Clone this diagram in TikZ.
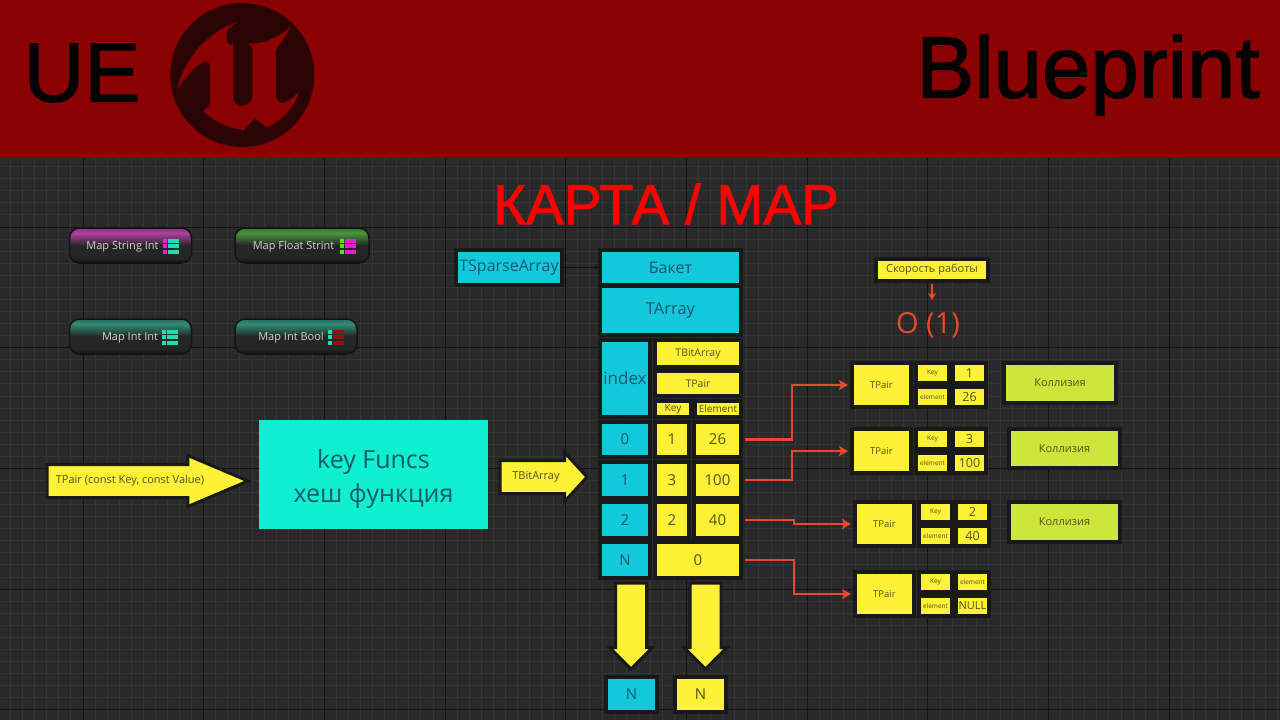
\documentclass[tikz,border=0pt]{standalone}
\usepackage{fontspec}
\setmainfont{Open Sans}
\newfontfamily\arialfont[RawFeature={embolden=1.5}]{Liberation Sans}
\usetikzlibrary{arrows.meta, shapes.arrows, calc}
\definecolor{headred}{HTML}{8B0000}
\definecolor{logodark}{HTML}{2A0303}
\definecolor{boardbg}{HTML}{292929}
\definecolor{gridminor}{HTML}{343434}
\definecolor{gridmajor}{HTML}{141414}
\definecolor{halo}{HTML}{191919}
\definecolor{newcyan}{HTML}{12C8DA}
\definecolor{newmint}{HTML}{0FF0D0}
\definecolor{newyellow}{HTML}{FFF135}
\definecolor{newlime}{HTML}{CDE63C}
\definecolor{linkred}{HTML}{E8492A}
\definecolor{cyantext}{HTML}{125A6C}
\definecolor{yellowtext}{HTML}{55521C}
\definecolor{iconteal}{HTML}{1FDDB0}
\definecolor{iconpink}{HTML}{E81FD0}
\definecolor{icongreen}{HTML}{55E020}
\definecolor{iconred}{HTML}{8E1010}
\definecolor{btnbody}{HTML}{242626}
\definecolor{btnedge}{HTML}{131313}
\definecolor{btnpink}{RGB}{176,64,160}
\definecolor{btngreen}{RGB}{72,150,60}
\definecolor{btnteal}{RGB}{50,140,120}
\pgfdeclareverticalshading{btnshadepink}{100bp}{color(0bp)=(btnedge); color(26bp)=(btnedge); color(32bp)=(btnbody); color(50bp)=(btnbody); color(68bp)=(btnpink); color(75bp)=(btnpink!65!btnbody); color(100bp)=(btnpink!65!btnbody)}
\pgfdeclareverticalshading{btnshadegreen}{100bp}{color(0bp)=(btnedge); color(26bp)=(btnedge); color(32bp)=(btnbody); color(50bp)=(btnbody); color(68bp)=(btngreen); color(75bp)=(btngreen!65!btnbody); color(100bp)=(btngreen!65!btnbody)}
\pgfdeclareverticalshading{btnshadeteal}{100bp}{color(0bp)=(btnedge); color(26bp)=(btnedge); color(32bp)=(btnbody); color(50bp)=(btnbody); color(68bp)=(btnteal); color(75bp)=(btnteal!65!btnbody); color(100bp)=(btnteal!65!btnbody)}
\tikzset{
  pxbox/.style 2 args = {rectangle, draw = halo, line width = 4pt, inner sep = 0pt, outer sep = 0pt, align = center,
    minimum width = #1pt + 4pt, minimum height = #2pt + 4pt},
  cyanbox/.style = {fill = newcyan, text = cyantext},
  yellowbox/.style = {fill = newyellow, text = yellowtext},
  limebox/.style = {fill = newlime, text = yellowtext, font = \fontsize{11}{13}\selectfont},
  bigarrow/.style = {single arrow, fill = newyellow, draw = halo, line width = 3pt, inner sep = 0pt, outer sep = 0pt, anchor = tail},
  redlink/.style = {draw = linkred, line width = 2.4pt, -{Stealth[length = 9pt, width = 10pt, inset = 2pt]}, shorten < = 4pt, shorten > = 4pt},
  mapbutton/.style = {rectangle, rounded corners = 10pt, draw = btnedge, line width = 1.5pt, inner sep = 0pt, shading = #1},
  maptext/.style = {text = white!82!black, font = \fontsize{11}{13}\selectfont},
  iconcell/.style = {rectangle, inner sep = 0pt, outer sep = 0pt}
}
\newcommand{\mapicon}[5]{%
  \foreach \j in {0, 1, 2} {
    \node[iconcell, fill = #4, minimum width = 4pt, minimum height = 4pt] (#1l\j) at (#2+2,#3+\j*5.5) {};
    \node[iconcell, fill = #5, minimum width = 11pt, minimum height = 4pt] (#1r\j) at (#2+10.5,#3+\j*5.5) {};
  }}
\begin{document}
\begin{tikzpicture}[x = 1pt, y = -1pt]
\useasboundingbox (0,0) rectangle (1280,720);
\fill[boardbg] (0,0) rectangle (1280,720);
% grid
\foreach \i in {0,...,106}
	\draw[gridminor, line width = 1pt] ({10.6+\i*12.07},158) -- ({10.6+\i*12.07},720);
\foreach \i in {0,...,47}
	\draw[gridminor, line width = 1pt] (0,{154.6+\i*12.07}) -- (1280,{154.6+\i*12.07});
\foreach \i in {0,...,9}
	\draw[gridmajor, line width = 1pt] ({83+\i*120.7},158) -- ({83+\i*120.7},720);
\foreach \i in {0,...,4}
	\draw[gridmajor, line width = 1pt] (0,{227+\i*120.7}) -- (1280,{227+\i*120.7});
% header
\fill[headred] (0,0) rectangle (1280,158);
\node[font = \arialfont\fontsize{84}{100}\selectfont, text = black] (ue) at (82,73) {UE};
\node[font = \arialfont\fontsize{87}{100}\selectfont, text = black] (blueprint) at (1088,75) {Blueprint};
\fill[logodark] (242.3,75) circle (72);
\begin{scope}[shift = {(165,0)}, x = 0.3333pt, y = -0.3333pt]
\fill[headred] (220,65) .. controls (130,95) and (60,170) .. (36,268)
	.. controls (60,235) and (95,190) .. (125,182) -- (135,195) -- (135,315) -- (115,335)
	.. controls (150,365) and (190,385) .. (235,390) -- (270,355) -- (305,382)
	.. controls (350,365) and (390,320) .. (402,275)
	.. controls (385,295) and (360,310) .. (345,310) -- (333,290) -- (333,150) -- (378,80)
	.. controls (340,110) and (300,135) .. (250,130) -- (262,145) -- (262,295)
	.. controls (262,310) and (235,318) .. (225,318)
	.. controls (215,315) and (205,305) .. (205,295) -- (205,130) -- (195,135)
	.. controls (185,130) and (180,110) .. (190,85) -- cycle;
\end{scope}
\node[font = \arialfont\fontsize{56.5}{60}\selectfont, text = red] (title) at (666,204) {КАРТА / MAP};
% map buttons
\node[mapbutton = btnshadepink, minimum width = 122pt, minimum height = 35pt] (btnsi) at (130.5,245.5) {};
\node[maptext] (btnsitext) at (122.5,247) {Map String Int};
\mapicon{si}{163}{240.5}{iconpink}{iconteal}
\node[mapbutton = btnshadegreen, minimum width = 134pt, minimum height = 35pt] (btnfs) at (302,245.5) {};
\node[maptext] (btnfstext) at (293.5,247) {Map Float Strint};
\mapicon{fs}{339.5}{240.5}{icongreen}{iconpink}
\node[mapbutton = btnshadeteal, minimum width = 122pt, minimum height = 35pt] (btnii) at (130.5,336.5) {};
\node[maptext] (btniitext) at (130,338) {Map Int Int};
\mapicon{ii}{162.3}{331.5}{iconteal}{iconteal}
\node[mapbutton = btnshadeteal, minimum width = 122pt, minimum height = 35pt] (btnib) at (296,336.5) {};
\node[maptext] (btnibtext) at (291,338) {Map Int Bool};
\mapicon{ib}{328}{331.5}{iconteal}{iconred}
% hash
\node[bigarrow, single arrow head extend = 9pt, single arrow tip angle = 46, minimum height = 201pt] (pairarrow) at (47,481) {\phantom{\rule{30pt}{30pt}}};
\node[text = yellowtext, font = \fontsize{11}{12}\selectfont] (pairtext) at (130,481) {TPair (const Key, const Value)};
\node[rectangle, inner sep = 0pt, outer sep = 0pt, align = center, minimum width = 229pt, minimum height = 109pt, fill = newmint, text = cyantext, font = \fontsize{25}{34}\selectfont] (hash) at (373.5,474.5) {\rule{0pt}{28pt}key Funcs\\хеш функция};
\node[bigarrow, single arrow head extend = 8pt, single arrow tip angle = 95, minimum height = 87pt] (bitarrow) at (500,477) {\phantom{\rule{30pt}{30pt}}};
\node[text = yellowtext, font = \fontsize{11}{12}\selectfont] (bittext) at (536,477) {TBitArray};
% table
\node[pxbox = {102}{31}, cyanbox, font = \fontsize{16}{18}\selectfont] (sparse) at (509,267.5) {TSparseArray};
\node[pxbox = {137}{31}, cyanbox, font = \fontsize{16}{18}\selectfont] (bucket) at (670.5,267.5) {Бакет};
\draw[gridmajor, line width = 1pt, -{Latex[length = 5pt, width = 5pt]}] (sparse.east) -- (bucket.west);
\node[pxbox = {137}{45}, cyanbox, font = \fontsize{16.5}{18}\selectfont] (tarray) at (670.5,310.5) {TArray};
\node[pxbox = {46}{73}, cyanbox, font = \fontsize{17}{20}\selectfont] (index) at (625,378.5) {index};
\node[pxbox = {82}{23}, yellowbox, font = \fontsize{10.5}{12}\selectfont] (bits) at (698,353.5) {TBitArray};
\node[pxbox = {82}{21}, yellowbox, font = \fontsize{10.5}{12}\selectfont] (tpair) at (698,383.5) {TPair};
\node[pxbox = {32}{12}, yellowbox, font = \fontsize{10}{10}\selectfont] (keyhead) at (673,409) {Key};
\node[pxbox = {42}{12}, yellowbox, font = \fontsize{10}{10}\selectfont] (elemhead) at (718,409) {Element};
% rows
\foreach \r/\ypos/\h/\k/\e in {0/439.5/31/1/26, 1/480/32/3/100, 2/520/32/2/40} {
	\node[pxbox = {46}{\h}, cyanbox, font = \fontsize{15}{16}\selectfont] (idx\r) at (625,\ypos) {\r};
	\node[pxbox = {30}{\h}, yellowbox, font = \fontsize{15}{16}\selectfont] (key\r) at (672,\ypos) {\k};
	\node[pxbox = {43}{\h}, yellowbox, font = \fontsize{15}{16}\selectfont] (val\r) at (717.5,\ypos) {\e};
}
\node[pxbox = {46}{32}, cyanbox, font = \fontsize{15}{16}\selectfont] (idx3) at (625,560) {N};
\node[pxbox = {82}{32}, yellowbox, font = \fontsize{15}{16}\selectfont] (val3) at (698,560) {0};
% down arrows
\node[bigarrow, shape border rotate = 270, single arrow head extend = 6pt, single arrow tip angle = 90, minimum height = 86pt] (downa) at (631,583) {\phantom{\rule{28pt}{28pt}}};
\node[bigarrow, shape border rotate = 270, single arrow head extend = 6pt, single arrow tip angle = 90, minimum height = 86pt] (downb) at (705.5,583) {\phantom{\rule{28pt}{28pt}}};
\node[pxbox = {47}{31}, cyanbox, font = \fontsize{15}{16}\selectfont] (ncyan) at (631.5,694.5) {N};
\node[pxbox = {47}{31}, yellowbox, font = \fontsize{15}{16}\selectfont] (nyellow) at (700.5,694.5) {N};
% speed
\node[pxbox = {108}{18}, yellowbox, font = \fontsize{11}{12}\selectfont] (speed) at (932,270) {Скорость работы};
\node[text = linkred, font = \fontsize{29}{32}\selectfont] (bigo) at (928,325) {O (1)};
\draw[draw = linkred, line width = 1.8pt, -{Stealth[length = 7pt, width = 8pt, inset = 2pt]}, shorten < = 3pt] (speed.south) -- ++(0,19) coordinate (speedend);
% pairs
\foreach \g/\px/\py/\a/\b in {0/854/365/1/26, 1/854/431/3/100, 2/857/504/2/40} {
	\node[pxbox = {55}{40}, yellowbox, font = \fontsize{9.5}{11}\selectfont] (pair\g) at (\px+27.5,\py+20) {TPair};
	\node[pxbox = {29}{16}, yellowbox, font = \fontsize{6.5}{8}\selectfont] (plk\g) at (\px+78.5,\py+8) {Key};
	\node[pxbox = {29}{16}, yellowbox, font = \fontsize{6.5}{8}\selectfont] (ple\g) at (\px+78.5,\py+32) {element};
	\node[pxbox = {29}{16}, yellowbox, font = \fontsize{12.5}{14}\selectfont] (pvk\g) at (\px+115.5,\py+8) {\a};
	\node[pxbox = {29}{16}, yellowbox, font = \fontsize{12.5}{14}\selectfont] (pve\g) at (\px+115.5,\py+32) {\b};
}
\node[pxbox = {55}{40}, yellowbox, font = \fontsize{9.5}{11}\selectfont] (pair3) at (884.5,594) {TPair};
\node[pxbox = {29}{16}, yellowbox, font = \fontsize{6.5}{8}\selectfont] (plk3) at (935.5,582) {Key};
\node[pxbox = {29}{16}, yellowbox, font = \fontsize{6.5}{8}\selectfont] (ple3) at (935.5,606) {element};
\node[pxbox = {29}{16}, yellowbox, font = \fontsize{6.5}{8}\selectfont] (pvk3) at (972.5,582) {element};
\node[pxbox = {29}{16}, yellowbox, font = \fontsize{11}{12}\selectfont] (pve3) at (972.5,606) {NULL};
% collisions
\node[pxbox = {108}{36}, limebox] (coll0) at (1060,383) {Коллизия};
\node[pxbox = {107}{35}, limebox] (coll1) at (1064.5,448.5) {Коллизия};
\node[pxbox = {107}{36}, limebox] (coll2) at (1064.5,522) {Коллизия};
% links
\foreach \r/\bend in {0/792, 1/792, 2/794, 3/794} {
	\coordinate (bend\r) at (\bend,0);
	\draw[redlink] (val\r.east) -- (val\r.east -| bend\r) -- (pair\r.west -| bend\r) -- (pair\r.west);
}
\end{tikzpicture}
\end{document}
